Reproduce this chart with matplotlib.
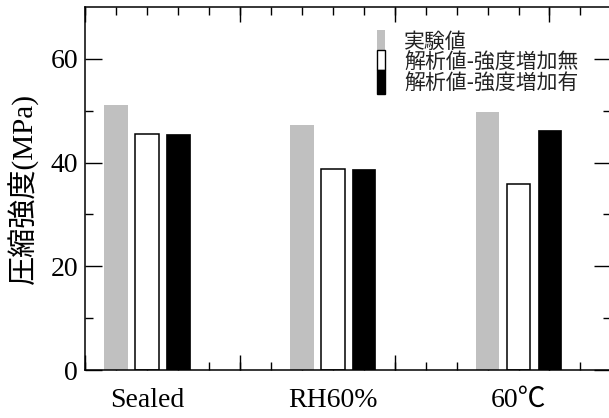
import numpy as np
import matplotlib
matplotlib.use("Agg")
import matplotlib.pyplot as plt
from matplotlib.patches import Rectangle

categories = ["Sealed", "RH60%", "60℃"]
series_names = ["実験値", "解析値-強度増加無", "解析値-強度増加有"]
experiment = [51.1, 47.3, 49.7]
analysis_no_gain = [45.5, 38.8, 35.9]
analysis_gain = [45.5, 38.8, 46.3]
y_ticks = [0, 20, 40, 60]

serif = ["Liberation Serif", "Noto Sans CJK JP"]
jp = ["Noto Sans CJK JP", "DejaVu Sans"]

fig = plt.figure(figsize=(6.09, 4.18), dpi=100)
W, H = 609, 418
L, R, T, B = 85, 611.4, 7, 370
ax = fig.add_axes([L / W, (H - B) / H, (R - L) / W, (B - T) / H])

x = np.arange(1, len(categories) + 1)
step = 1 / 6
width = 0.127
ax.bar(x - step, experiment, width, color="#c0c0c0", edgecolor="none", zorder=2)
ax.bar(x, analysis_no_gain, width, color="white", edgecolor="black", linewidth=1.1, zorder=2)
ax.bar(x + step, analysis_gain, width, color="black", edgecolor="black", linewidth=0.5, zorder=2)

x0, x1 = 2 / 3, 3.5
ax.set_xlim(x0, x1)
ax.set_ylim(0, 70)

for s in ["left", "top", "bottom"]:
    ax.spines[s].set_linewidth(1.1)
ax.spines["right"].set_visible(False)
ax.set_axisbelow(True)

# y ticks
ax.set_yticks(y_ticks)
ax.set_yticks([10, 30, 50], minor=True)
ax.set_yticklabels([str(v) for v in y_ticks], family=serif, fontsize=20)
ax.tick_params(axis="y", which="major", direction="in", length=12, width=1.0,
               left=True, right=True, pad=5)
ax.tick_params(axis="y", which="minor", direction="in", length=6, width=1.0,
               left=True, right=True)

# x ticks: labels at group centres, minor ticks every 1/6
ax.set_xticks(x)
ax.set_xticklabels(categories, family=serif, fontsize=20)
ax.set_xticks(np.arange(x0, x1 + 1e-6, step), minor=True)
ax.tick_params(axis="x", which="major", direction="in", length=6, width=1.0,
               top=True, bottom=True, pad=13)
ax.tick_params(axis="x", which="minor", direction="in", length=6, width=1.0,
               top=True, bottom=True)
for sec_loc in ["top", "bottom"]:
    sec = ax.secondary_xaxis(sec_loc)
    sec.set_xticks(np.arange(x0, x1 + 1e-6, 5 * step))
    sec.tick_params(direction="in", length=11, width=1.0, labelsize=0,
                    labeltop=False, labelbottom=False)
    sec.spines[sec_loc].set_visible(False)

ax.set_ylabel("圧縮強度(MPa)", family=serif, fontsize=21, labelpad=8)

# manual legend (pixel layout)
def fx(px):
    return (px - L) / (R - L)

def fy(py):
    return (B - py) / (B - T)

colors = ["#c0c0c0", "white", "black"]
edges = ["none", "black", "black"]
box_tops = [30, 50, 70]
box_bots = [50, 70, 94]
for c, e, t, b in zip(colors, edges, box_tops, box_bots):
    ax.add_patch(Rectangle((fx(377), fy(b)), fx(385) - fx(377), fy(t) - fy(b),
                           transform=ax.transAxes, facecolor=c, edgecolor=e,
                           linewidth=1.0, clip_on=False, zorder=3))
ax.text(fx(404), fy(63), "\n".join(series_names), transform=ax.transAxes,
        family=jp, fontsize=15, va="center", ha="left", color="#222222",
        linespacing=0.95)

fig.savefig("out.png", dpi=100)
